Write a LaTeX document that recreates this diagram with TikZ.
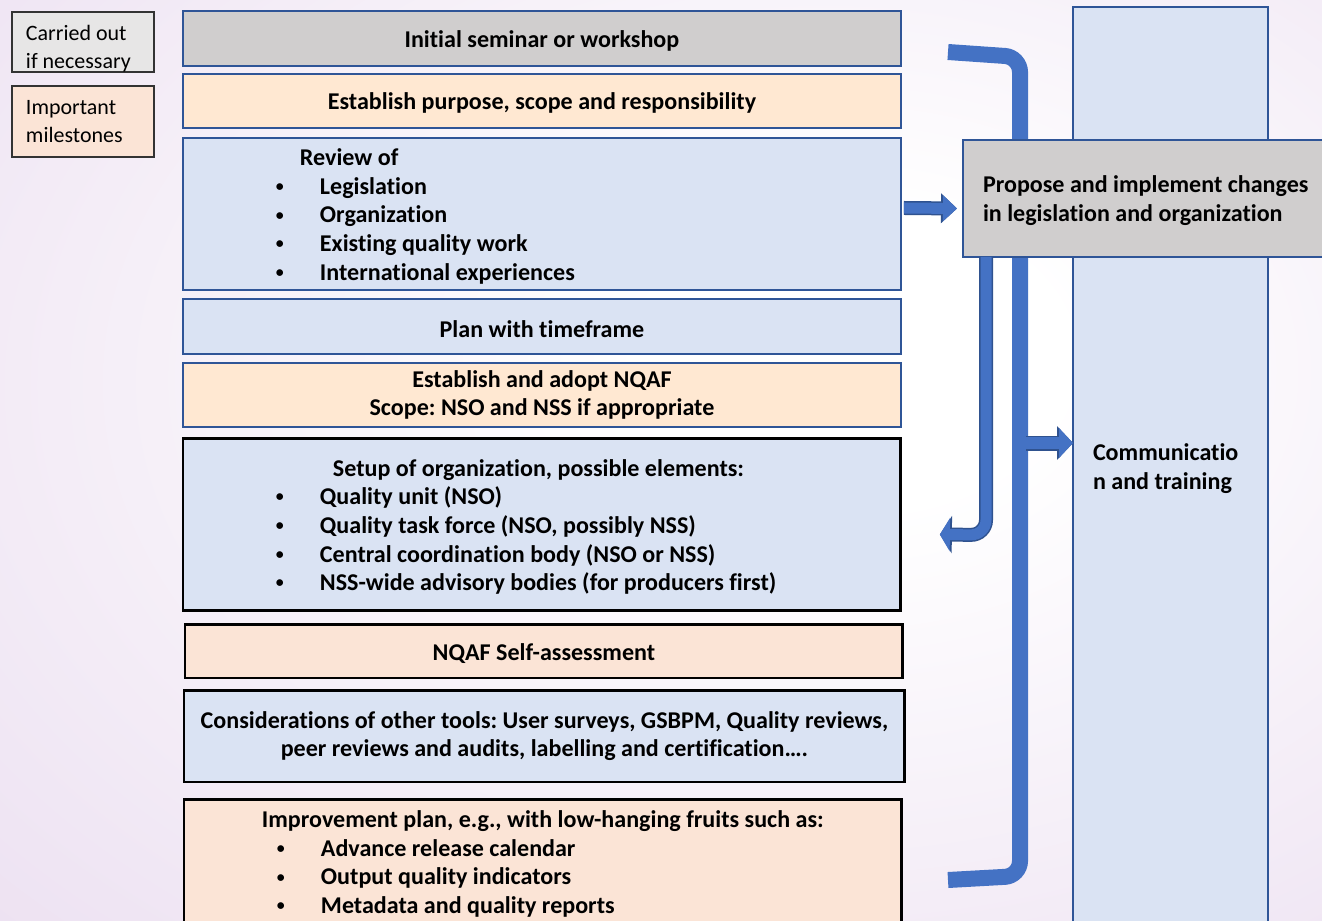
\documentclass[tikz,border=0pt]{standalone}
\usepackage{fontspec}
\setmainfont{Carlito}[Ligatures=NoCommon]
\usepackage{xcolor}
\usetikzlibrary{arrows.meta, calc}
\frenchspacing

\definecolor{boxblue}{HTML}{DAE3F3}
\definecolor{boxgrey}{HTML}{D0CECE}
\definecolor{legendgrey}{HTML}{E7E6E6}
\definecolor{boxcream}{HTML}{FFE8D2}
\definecolor{boxpeach}{HTML}{FBE4D6}
\definecolor{edgeblue}{HTML}{2F5597}
\definecolor{arrowblue}{HTML}{4472C4}
\definecolor{arrowedge}{HTML}{2F528F}
\definecolor{bglav}{HTML}{E4D3EB}

\pgfdeclareradialshading{bgglow}{\pgfpoint{8bp}{6bp}}{color(0bp)=(white); color(8bp)=(white); color(58bp)=(bglav); color(90bp)=(bglav)}

\newcommand{\bitem}[1]{\hspace*{1.86cm}\makebox[0.88cm][l]{\raisebox{1.6pt}{\fontsize{9pt}{9pt}\selectfont\textbullet}}#1}
\newcommand{\lift}{\rule{0pt}{0.9em}}

\tikzset{
  stage/.style={draw=edgeblue, line width=1.1pt, rectangle, minimum width=14.36cm, minimum height=1.1cm,
    anchor=north west, outer sep=0pt, align=center, font=\fontsize{13.7pt}{16.3pt}\selectfont\bfseries,
    execute at begin node=\lift},
  framed/.style={draw=black, line width=1.7pt},
  list/.style={text width=14.36cm, inner xsep=0pt, align=flush left},
  legend/.style={draw=black!80, line width=0.8pt, rectangle, minimum width=2.84cm, anchor=north west,
    outer sep=0pt, inner xsep=0.28cm, text width=2.28cm, align=flush left, font=\fontsize{12.5pt}{16.3pt}\selectfont}
}

\begin{document}
\begin{tikzpicture}[x=0.02cm, y=-0.02cm]
  \shade[shading=bgglow] (0,0) rectangle (1322,920);
  \useasboundingbox (0,0) rectangle (1322,920);

  % legend
  \node[legend, fill=legendgrey, minimum height=1.2cm, inner ysep=0pt, text height=16pt, text depth=18pt] (necessary) at (12,12) {Carried out\\if necessary};
  \node[legend, fill=boxpeach, minimum height=1.42cm] (milestones) at (12,86) {Important\\milestones};

  % stages
  \node[stage, fill=boxgrey] (seminar) at (183,11) {Initial seminar or workshop};
  \node[stage, fill=boxcream, minimum height=1.08cm] (purpose) at (183,74) {Establish purpose, scope and responsibility};
  \node[stage, list, fill=boxblue, minimum height=3.04cm] (review) at (183,138) {%
    \hspace*{2.34cm}Review of\\
    \bitem{Legislation}\\
    \bitem{Organization}\\
    \bitem{Existing quality work}\\
    \bitem{International experiences}};
  \node[stage, fill=boxblue] (plan) at (183,299) {Plan with timeframe};
  \node[stage, fill=boxcream, minimum height=1.28cm] (adopt) at (183,363) {Establish and adopt NQAF\\Scope: NSO and NSS if appropriate};
  \node[stage, framed, list, fill=boxblue, minimum height=3.46cm] (setup) at (183,438) {%
    \hspace*{3.0cm}Setup of organization, possible elements:\\
    \bitem{Quality unit (NSO)}\\
    \bitem{Quality task force (NSO, possibly NSS)}\\
    \bitem{Central coordination body (NSO or NSS)}\\
    \bitem{NSS-wide advisory bodies (for producers first)}};
  \node[stage, framed, fill=boxpeach, minimum height=1.08cm] (selfassess) at (185,624) {NQAF Self-assessment};
  \node[stage, framed, fill=boxblue, minimum width=14.42cm, minimum height=1.84cm] (tools) at (184,690) {Considerations of other tools: User surveys, GSBPM, Quality reviews,\\peer reviews and audits, labelling and certification….};
  \node[stage, framed, list, fill=boxpeach, minimum height=0pt, inner ysep=0.14cm] (improve) at (184,799) {%
    \hspace*{1.56cm}Improvement plan, e.g., with low-hanging fruits such as:\\
    \bitem{Advance release calendar}\\
    \bitem{Output quality indicators}\\
    \bitem{Metadata and quality reports}};

  % right side
  \node[stage, fill=boxblue, minimum width=3.9cm, minimum height=18.36cm, inner xsep=0.4cm, text width=3.1cm, align=flush left] (training) at (1073,7) {Communicatio\\n and training};

  \coordinate (brtop) at (948,52);
  \coordinate (brbot) at (948,880);
  \draw[arrowblue, line width=0.32cm, rounded corners=0.3cm] (brtop) -- (1020,57) -- (1020,876) -- (brbot);

  \node[stage, fill=boxgrey, minimum width=7.4cm, minimum height=2.34cm, inner xsep=0.4cm, text width=6.6cm, align=flush left] (propose) at (963,140) {Propose and implement changes\\in legislation and organization};

  % arrows
  \draw[arrowblue, line width=0.22cm, -{Triangle[width=0.5cm,length=0.28cm]},
    preaction={draw=arrowedge, line width=0.28cm, -{Triangle[width=0.58cm,length=0.32cm]}}]
    ($(review.east)+(3,-6)$) -- ($(propose.west)+(-6,10)$);
  \draw[arrowblue, line width=0.22cm, rounded corners=0.3cm, -{Triangle[width=0.66cm,length=0.2cm]},
    preaction={draw=arrowedge, line width=0.28cm, rounded corners=0.3cm, -{Triangle[width=0.74cm,length=0.24cm]}}]
    ($(propose.south west)+(23,0)$) -- (986,535) -- ($(setup.east)+(39,10)$);
  \draw[arrowblue, line width=0.24cm, -{Triangle[width=0.58cm,length=0.28cm]},
    preaction={draw=arrowedge, line width=0.3cm, -{Triangle[width=0.66cm,length=0.32cm]}}]
    (1026,443) -- (training.west |- 0,443);
\end{tikzpicture}
\end{document}
